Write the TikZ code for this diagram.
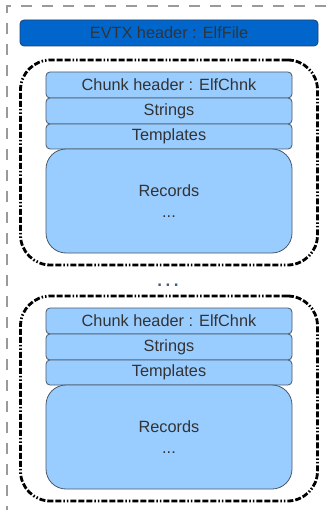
\documentclass[tikz,border=0pt]{standalone}
\usepackage{fontspec}
\setmainfont{Liberation Sans}
\usetikzlibrary{positioning,fit}
\definecolor{hdrblue}{HTML}{0066CC}
\definecolor{hdredge}{HTML}{1F3F6F}
\definecolor{partblue}{HTML}{99CCFF}
\definecolor{partedge}{HTML}{4A5866}
\definecolor{txtgray}{HTML}{333333}
\definecolor{dotblue}{HTML}{3F5F80}
\definecolor{framegray}{HTML}{9A9A9A}
\begin{document}
\begin{tikzpicture}[
    x=1pt,y=-1pt,
    font=\fontsize{16.3}{21}\selectfont,
    text=txtgray
  ]
\def\bw{246pt}

\tikzstyle{part}=[draw=partedge,fill=partblue,line width=0.8pt,minimum width=\bw,minimum height=26pt,inner sep=0pt,outer sep=0pt,rounded corners=4pt,node distance=0pt];
\tikzstyle{records}=[part,minimum height=104pt,rounded corners=20pt,align=center];
\tikzstyle{chunk}=[draw=black,line width=2.8pt,rounded corners=30pt,inner xsep=25.5pt,inner ysep=12pt,
  dash pattern=on 6pt off 2pt on 6pt off 2pt on 6pt off 2pt on 1.5pt off 2pt on 1.5pt off 2pt];

\useasboundingbox (0,0) rectangle (326,510);

% evtx file
\draw[framegray,line width=1.2pt,dash pattern=on 11pt off 10pt] (326,6) -- (7,6) -- (7,510);

\node[draw=hdredge,fill=hdrblue,line width=0.8pt,rounded corners=4pt,minimum width=298pt,minimum height=26pt,inner sep=0pt] (evtx) at (169,33) {EVTX header : ElfFile};

% first chunk
\node[part] (hdr1) at (169,85) {Chunk header : ElfChnk};
\node[part,below= of hdr1] (str1) {Strings};
\node[part,below= of str1,minimum height=25pt] (tpl1) {Templates};
\node[records,below= of tpl1] (rec1) {Records\\...};
\node[chunk,fit=(hdr1)(rec1)] (chunk1) {};

\node[text=dotblue,font=\fontsize{17}{17}\selectfont\bfseries] (more) at (168,285) {.\hspace{3.5pt}.\hspace{3.5pt}.};

% last chunk
\node[part] (hdr2) at (169,321) {Chunk header : ElfChnk};
\node[part,below= of hdr2] (str2) {Strings};
\node[part,below= of str2,minimum height=25pt] (tpl2) {Templates};
\node[records,below= of tpl2] (rec2) {Records\\...};
\node[chunk,fit=(hdr2)(rec2)] (chunk2) {};

\end{tikzpicture}
\end{document}
